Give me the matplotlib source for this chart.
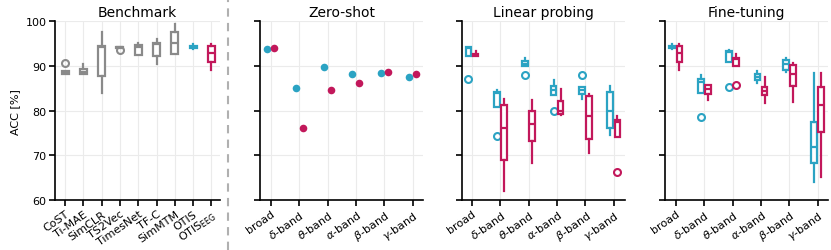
import matplotlib
matplotlib.use("Agg")
import matplotlib.pyplot as plt
from matplotlib.lines import Line2D

BLUE = "#2ba3c3"
RED = "#c2185b"
GRAY = "#8a8a8a"

bench_names = ["CoST", "Ti-MAE", "SimCLR", "TS2Vec", "TimesNet", "TF-C",
               "SimMTM", "OTIS", r"OTIS$_{\mathrm{EEG}}$"]
bench_q1 = [88.1, 88.2, 87.7, 93.9, 92.5, 92.1, 92.6, 94.0, 90.8]
bench_med = [88.4, 88.7, 94.3, 94.1, 94.3, 94.8, 95.1, 94.2, 92.8]
bench_q3 = [88.9, 89.2, 94.5, 94.3, 94.6, 95.1, 97.5, 94.4, 94.4]
bench_lo = [88.1, 88.2, 83.9, 93.9, 92.5, 90.4, 92.6, 93.7, 89.1]
bench_hi = [88.9, 90.4, 97.6, 94.3, 95.0, 96.1, 99.3, 94.8, 94.8]
bench_fl = [[90.7], [], [], [93.5], [], [], [], [], []]

bands = ["broad", r"$\delta$-band", r"$\theta$-band", r"$\alpha$-band",
         r"$\beta$-band", r"$\gamma$-band"]

# zero-shot
zs_blue = [93.7, 85.0, 89.65, 88.2, 88.45, 87.5]
zs_red = [93.9, 76.2, 84.65, 86.15, 88.7, 88.15]

# linear probing: q1, med, q3, whislo, whishi
lp_blue_q1 = [92.1, 80.9, 89.9, 83.5, 83.7, 76.0]
lp_blue_med = [94.0, 84.0, 90.5, 84.5, 84.5, 80.0]
lp_blue_q3 = [94.1, 84.1, 91.0, 85.4, 85.2, 84.1]
lp_blue_lo = [92.1, 80.9, 89.9, 83.5, 82.6, 74.5]
lp_blue_hi = [94.2, 84.6, 91.7, 86.9, 85.2, 85.4]
lp_blue_fl = [[87.0], [74.4], [87.9], [79.8], [87.9], []]

lp_red_q1 = [92.2, 69.0, 73.2, 79.2, 73.6, 74.2]
lp_red_med = [92.5, 76.2, 76.9, 80.0, 78.85, 77.5]
lp_red_q3 = [92.7, 81.3, 80.0, 82.05, 83.2, 77.9]
lp_red_lo = [92.2, 62.1, 68.3, 79.1, 70.5, 74.2]
lp_red_hi = [93.3, 82.6, 82.4, 84.8, 83.7, 78.8]
lp_red_fl = [[], [], [], [], [], [66.3]]

# fine-tuning
ft_blue_q1 = [94.0, 83.9, 90.9, 86.9, 89.1, 68.2]
ft_blue_med = [94.2, 86.3, 93.2, 87.6, 90.4, 71.8]
ft_blue_q3 = [94.5, 87.0, 93.4, 88.2, 91.35, 77.4]
ft_blue_lo = [93.7, 83.9, 90.9, 86.1, 88.7, 64.1]
ft_blue_hi = [94.9, 87.9, 93.5, 88.8, 91.7, 88.5]
ft_blue_fl = [[], [78.5], [85.2], [], [], []]

ft_red_q1 = [90.8, 83.8, 90.0, 83.5, 85.4, 75.1]
ft_red_med = [92.85, 84.8, 91.5, 84.4, 88.2, 81.2]
ft_red_q3 = [94.5, 85.8, 91.7, 85.3, 90.25, 85.2]
ft_red_lo = [89.1, 82.4, 90.0, 81.8, 82.0, 65.2]
ft_red_hi = [94.9, 85.8, 92.6, 87.6, 90.6, 88.3]
ft_red_fl = [[], [], [85.8], [], [], []]


def stats(q1, med, q3, lo, hi, fl):
    return [dict(q1=a, med=b, q3=c, whislo=d, whishi=e, fliers=f)
            for a, b, c, d, e, f in zip(q1, med, q3, lo, hi, fl)]


def draw_boxes(ax, st, pos, colors, width):
    for s, p, c in zip(st, pos, colors):
        ax.bxp([s], positions=[p], widths=width, showcaps=False,
               patch_artist=True,
               boxprops=dict(facecolor="white", edgecolor=c, linewidth=1.6),
               whiskerprops=dict(color=c, linewidth=1.6),
               medianprops=dict(color=c, linewidth=1.6),
               flierprops=dict(marker="o", markerfacecolor="none",
                               markeredgecolor=c, markersize=5,
                               markeredgewidth=1.5))


def style(ax, labels, xlim):
    ax.set_ylim(60, 100)
    ax.set_yticks([60, 70, 80, 90, 100])
    ax.set_xlim(*xlim)
    ax.set_xticks(range(len(labels)))
    ax.set_xticklabels(labels, rotation=35, ha="right",
                       rotation_mode="anchor", fontsize=8)
    ax.tick_params(axis="both", labelsize=8, length=4, width=1.2, pad=2)
    for sp in ["top", "right"]:
        ax.spines[sp].set_visible(False)
    for sp in ["left", "bottom"]:
        ax.spines[sp].set_linewidth(1.2)
    ax.grid(True, color="#ebebeb", linewidth=0.8)
    ax.set_axisbelow(True)


fig = plt.figure(figsize=(8.31, 2.51), dpi=100)
bottom, height = 0.199, 0.713
ax0 = fig.add_axes([0.0662, bottom, 0.1986, height])
ax1 = fig.add_axes([0.3129, bottom, 0.196, height])
ax2 = fig.add_axes([0.556, bottom, 0.196, height])
ax3 = fig.add_axes([0.800, bottom, 0.196, height])

# Benchmark
bcolors = [GRAY] * 7 + [BLUE, RED]
draw_boxes(ax0, stats(bench_q1, bench_med, bench_q3, bench_lo, bench_hi, bench_fl),
           range(len(bench_names)), bcolors, 0.38)
style(ax0, bench_names, (-0.55, 8.47))
ax0.set_ylabel("ACC [%]", fontsize=8)
ax0.set_title("Benchmark", fontsize=10, pad=4)

off = 0.125
xs = range(len(bands))
# Zero-shot
ax1.scatter([x - off for x in xs], zs_blue, s=30, color=BLUE, zorder=3, linewidths=0)
ax1.scatter([x + off for x in xs], zs_red, s=30, color=RED, zorder=3, linewidths=0)
style(ax1, bands, (-0.38, 5.36))
ax1.set_yticklabels([])
ax1.set_title("Zero-shot", fontsize=10, pad=4)

# Linear probing
draw_boxes(ax2, stats(lp_blue_q1, lp_blue_med, lp_blue_q3, lp_blue_lo, lp_blue_hi, lp_blue_fl),
           [x - off for x in xs], [BLUE] * 6, 0.2)
draw_boxes(ax2, stats(lp_red_q1, lp_red_med, lp_red_q3, lp_red_lo, lp_red_hi, lp_red_fl),
           [x + off for x in xs], [RED] * 6, 0.2)
style(ax2, bands, (-0.35, 5.39))
ax2.set_yticklabels([])
ax2.set_title("Linear probing", fontsize=10, pad=4)

# Fine-tuning
draw_boxes(ax3, stats(ft_blue_q1, ft_blue_med, ft_blue_q3, ft_blue_lo, ft_blue_hi, ft_blue_fl),
           [x - off for x in xs], [BLUE] * 6, 0.2)
draw_boxes(ax3, stats(ft_red_q1, ft_red_med, ft_red_q3, ft_red_lo, ft_red_hi, ft_red_fl),
           [x + off for x in xs], [RED] * 6, 0.2)
style(ax3, bands, (-0.39, 5.35))
ax3.set_yticklabels([])
ax3.set_title("Fine-tuning", fontsize=10, pad=4)

fig.add_artist(Line2D([0.2744, 0.2744], [0, 1], transform=fig.transFigure,
                      color="#b0b0b0", linestyle=(0, (4, 3)), linewidth=1.5))

fig.savefig("out.png", dpi=100)
